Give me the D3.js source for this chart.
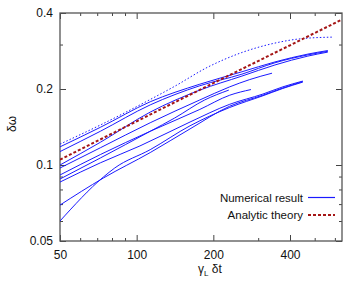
<!DOCTYPE html>
<html>
<head>
<meta charset="utf-8">
<script src="https://cdn.jsdelivr.net/npm/d3@7"></script>
<style>
  body { margin: 0; background: #fff; }
  text { font-family: "Liberation Sans", Arial, sans-serif; }
</style>
</head>
<body>
<div id="vis"></div>
<script>
// numerical runs, gamma_L dt (x) against delta omega (y)
var runT = [
  [50, 72, 113, 177, 259, 349, 470, 563],
  [50, 72, 113, 177, 259, 349, 470, 563],
  [50, 72, 113, 177, 259, 349, 470, 563],
  [50, 72, 113, 177, 232, 278, 340],
  [50, 72, 113, 177, 232, 281],
  [50, 72, 113, 141, 185, 230],
  [50, 72, 103, 162, 232, 313, 375, 449],
  [50, 74, 113, 162, 232, 313, 375, 449],
  [50, 74, 82, 113, 162, 232, 313, 375, 449]
];
var runW = [
  [0.118, 0.141, 0.178, 0.209, 0.234, 0.256, 0.275, 0.284],
  [0.113, 0.136, 0.173, 0.206, 0.229, 0.254, 0.273, 0.282],
  [0.100, 0.123, 0.162, 0.198, 0.225, 0.249, 0.270, 0.280],
  [0.0973, 0.117, 0.147, 0.181, 0.204, 0.218, 0.231],
  [0.0913, 0.110, 0.136, 0.166, 0.189, 0.199],
  [0.088, 0.1066, 0.136, 0.1535, 0.181, 0.198],
  [0.0856, 0.102, 0.119, 0.148, 0.174, 0.191, 0.204, 0.215],
  [0.0694, 0.0888, 0.112, 0.139, 0.171, 0.189, 0.202, 0.214],
  [0.060, 0.0896, 0.0973, 0.115, 0.143, 0.169, 0.188, 0.201, 0.213]
];
// the dotted run
var dottedT = [50, 72, 118, 141, 190, 259, 349, 437, 584];
var dottedW = [0.121, 0.144, 0.186, 0.205, 0.244, 0.279, 0.304, 0.316, 0.321];
// analytic theory
var theoryT = [50, 100, 200, 400, 640];
var theoryW = [0.105, 0.149, 0.211, 0.298, 0.377];

var xMajor = [50, 100, 200, 400];
var xMinor = [60, 70, 80, 90, 300, 500, 600];
var yMajor = [0.05, 0.1, 0.2, 0.4];
var yMinor = [0.06, 0.07, 0.08, 0.09, 0.3];

var width = 349, height = 293;
var plotL = 60, plotR = 342, plotT = 13, plotB = 241;

var svg = d3.select("#vis").append("svg")
    .attr("width", width)
    .attr("height", height);

var x = d3.scaleLog().domain([50, 640]).range([plotL, plotR]);
var y = d3.scaleLog().domain([0.05, 0.4]).range([plotB, plotT]);

svg.append("clipPath").attr("id", "clip")
  .append("rect")
    .attr("x", plotL).attr("y", plotT)
    .attr("width", plotR - plotL).attr("height", plotB - plotT);

// axes, ticks pointing inward on all four sides
function addAxis(axis, tx, ty, labels) {
  var g = svg.append("g")
      .attr("transform", "translate(" + tx + "," + ty + ")")
      .call(axis);
  g.select(".domain").remove();
  g.selectAll("line").attr("stroke", "#444");
  g.selectAll("text").attr("font-size", 12).attr("fill", "#111")
    .attr("font-family", "Liberation Sans, Arial, sans-serif");
  if (!labels) g.selectAll("text").remove();
  return g;
}

addAxis(d3.axisBottom(x).tickValues(xMajor).tickSize(-6).tickPadding(9).tickFormat(function(d) { return d; }), 0, plotB, true);
addAxis(d3.axisBottom(x).tickValues(xMinor).tickSize(-3), 0, plotB, false);
addAxis(d3.axisTop(x).tickValues(xMajor).tickSize(-6), 0, plotT, false);
addAxis(d3.axisTop(x).tickValues(xMinor).tickSize(-3), 0, plotT, false);
addAxis(d3.axisLeft(y).tickValues(yMajor).tickSize(-6).tickPadding(7).tickFormat(function(d) { return d; }), plotL, 0, true);
addAxis(d3.axisLeft(y).tickValues(yMinor).tickSize(-3), plotL, 0, false);
addAxis(d3.axisRight(y).tickValues(yMajor).tickSize(-6), plotR, 0, false);
addAxis(d3.axisRight(y).tickValues(yMinor).tickSize(-3), plotR, 0, false);

svg.append("rect")
    .attr("x", plotL).attr("y", plotT)
    .attr("width", plotR - plotL).attr("height", plotB - plotT)
    .attr("fill", "none")
    .attr("stroke", "#555")
    .attr("stroke-width", 1.3);

var line = d3.line()
    .x(function(d) { return x(d[0]); })
    .y(function(d) { return y(d[1]); })
    .curve(d3.curveMonotoneX);

var plot = svg.append("g").attr("clip-path", "url(#clip)");

runT.forEach(function(ts, i) {
  plot.append("path")
      .datum(ts.map(function(t, j) { return [t, runW[i][j]]; }))
      .attr("d", line)
      .attr("fill", "none")
      .attr("stroke", "#1a1aff")
      .attr("stroke-width", 1);
});

plot.append("path")
    .datum(dottedT.map(function(t, j) { return [t, dottedW[j]]; }))
    .attr("d", line)
    .attr("fill", "none")
    .attr("stroke", "#1a1aff")
    .attr("stroke-width", 1)
    .attr("stroke-dasharray", "1.5,2");

plot.append("path")
    .datum(theoryT.map(function(t, j) { return [t, theoryW[j]]; }))
    .attr("d", line)
    .attr("fill", "none")
    .attr("stroke", "#a51616")
    .attr("stroke-width", 2)
    .attr("stroke-dasharray", "3,2");

// legend
var legend = svg.append("g").attr("font-size", 11.5).attr("fill", "#111");
legend.append("text").attr("x", 303).attr("y", 201.5).attr("text-anchor", "end").text("Numerical result");
legend.append("line").attr("x1", 308).attr("x2", 335).attr("y1", 197.5).attr("y2", 197.5)
    .attr("stroke", "#1a1aff").attr("stroke-width", 1.2);
legend.append("text").attr("x", 303).attr("y", 218.5).attr("text-anchor", "end").text("Analytic theory");
legend.append("line").attr("x1", 308).attr("x2", 335).attr("y1", 215).attr("y2", 215)
    .attr("stroke", "#a51616").attr("stroke-width", 2).attr("stroke-dasharray", "3,2");

// axis titles
svg.append("text")
    .attr("transform", "translate(16,124) rotate(-90)")
    .attr("text-anchor", "middle")
    .attr("font-size", 12)
    .attr("fill", "#111")
    .text("δω");

var xt = svg.append("text")
    .attr("x", 198).attr("y", 273)
    .attr("font-size", 12)
    .attr("fill", "#111");
xt.append("tspan").text("γ");
xt.append("tspan").attr("font-size", 8).attr("dy", 3).text("L");
xt.append("tspan").attr("dy", -3).text(" δt");
</script>
</body>
</html>
